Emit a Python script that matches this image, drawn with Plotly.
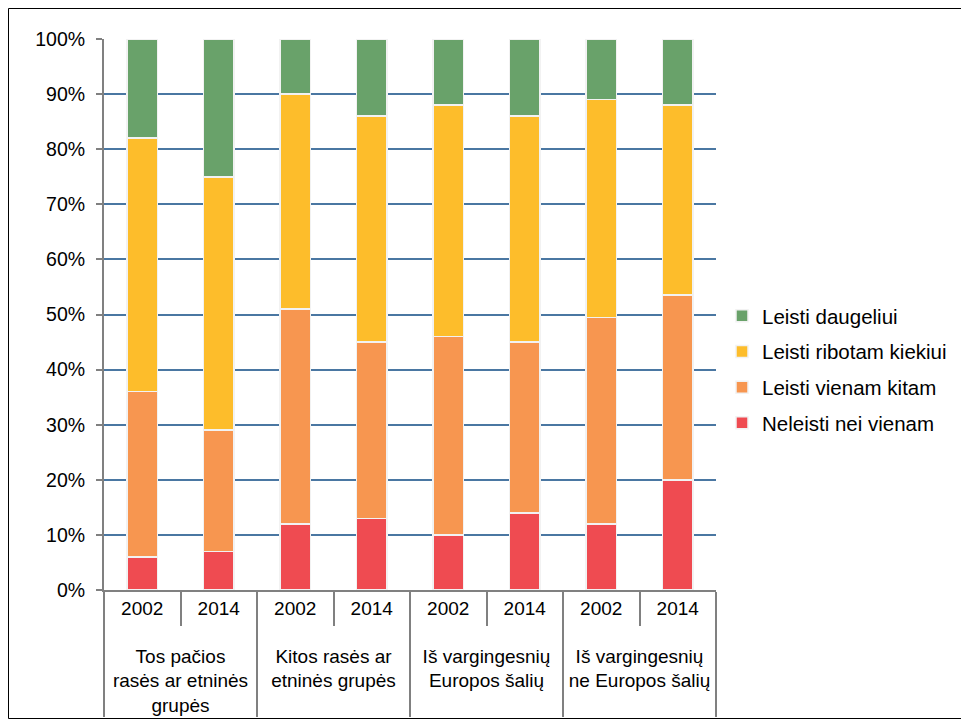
import plotly.graph_objects as go

groups = ["<br>Tos pačios<br>rasės ar etninės<br>grupės", "<br>Kitos rasės ar<br>etninės grupės<br> ",
          "<br>Iš vargingesnių<br>Europos šalių<br> ", "<br>Iš vargingesnių<br>ne Europos šalių<br> "]
years = ["2002", "2014"]

series_names = ["Neleisti nei vienam", "Leisti vienam kitam", "Leisti ribotam kiekiui", "Leisti daugeliui"]
red = [6, 7, 12, 13, 10, 14, 12, 20]
orange = [30, 22, 39, 32, 36, 31, 37.5, 33.5]
yellow = [46, 46, 39, 41, 42, 41, 39.5, 34.5]
green = [18, 25, 10, 14, 12, 14, 11, 12]
colors = ["#EF4B51", "#F79650", "#FDBD2B", "#69A26A"]

x_outer = [g for g in groups for _ in years]
x_inner = [y for _ in groups for y in years]

OFF = 8  # page body margin
W, H = 969 - OFF, 722 - OFF
L, R, T, B = 104 - OFF, 716 - OFF, 39 - OFF, 590 - OFF

fig = go.Figure()
for i, (name, vals, c) in enumerate(zip(series_names, [red, orange, yellow, green], colors)):
    fig.add_trace(go.Bar(
        x=[x_outer, x_inner], y=vals, name=name, legendgroup=name,
        legendrank=1000 - i,
        marker=dict(color=c, line=dict(color="#F2F2F2", width=1.5)),
    ))

def px_x(p):
    return (p - OFF - L) / (R - L)

def px_y(p):
    return (B - (p - OFF)) / (B - T)

fig.add_shape(type="rect", xref="paper", yref="paper",
              x0=px_x(8.5), x1=px_x(967.5), y0=px_y(718.5), y1=px_y(8.5),
              line=dict(color="#000000", width=1), layer="below")

fig.update_layout(
    width=W, height=H,
    margin=dict(l=L, r=W - R, t=T, b=H - B, pad=0, autoexpand=False),
    barmode="stack", bargap=0.6,
    plot_bgcolor="white", paper_bgcolor="white",
    font=dict(family="Liberation Sans, Arial, sans-serif", size=19, color="#000000"),
    legend=dict(x=px_x(722), y=px_y(296), xanchor="left", yanchor="top",
                traceorder="grouped", tracegroupgap=6,
                font=dict(size=20.5), itemwidth=30),
    showlegend=True,
)
fig.update_yaxes(
    range=[0, 100], dtick=10, ticksuffix="%",
    tickfont=dict(size=19.5),
    showgrid=True, gridcolor="#4A77A2", gridwidth=1.5,
    showline=True, linecolor="#808080", linewidth=2,
    ticks="outside", ticklen=6, tickcolor="#808080", tickwidth=1.5,
    ticklabelstandoff=7, automargin=False,
    zeroline=False, fixedrange=True,
)
fig.update_xaxes(
    type="multicategory", automargin=False,
    showline=True, linecolor="#808080", linewidth=2,
    ticks="outside", tickson="boundaries", ticklen=34, tickcolor="#808080", tickwidth=1.5,
    showdividers=True, dividercolor="#808080", dividerwidth=1.5,
    showgrid=False,
)

fig.write_html("out.html")
